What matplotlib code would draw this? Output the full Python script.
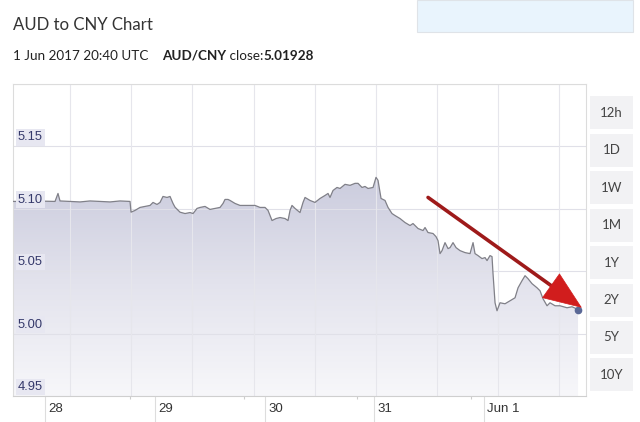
import numpy as np
import matplotlib
matplotlib.use("Agg")
import matplotlib.pyplot as plt
from matplotlib.patches import Rectangle, PathPatch
from matplotlib.colors import LinearSegmentedColormap

# ---- data: hours since 28 May 2017 00:00 UTC, AUD/CNY rate ----
hours = [-7.0, 0.0, 2.19, 2.84, 3.28, 5.47, 7.65, 9.84, 12.03, 14.21, 16.40, 18.59,
         18.81, 19.68, 20.77, 21.87, 22.96, 23.62, 24.49, 25.15, 25.80, 26.68, 27.34,
         27.99, 28.43, 29.52, 30.62, 31.71, 32.37, 33.24, 33.90, 34.99, 36.08, 37.18,
         38.27, 38.93, 39.36, 40.02, 40.46, 41.55, 42.64, 43.74, 44.83, 45.92, 47.02,
         48.11, 48.77, 49.64, 50.52, 51.39, 52.48, 53.14, 53.58, 54.01, 54.67, 55.76,
         56.42, 56.86, 57.95, 59.04, 60.14, 61.23, 61.89, 62.32, 62.98, 63.85, 64.51,
         65.60, 66.70, 67.79, 68.45, 69.32, 69.98, 70.63, 71.73, 72.38, 72.82, 73.48,
         74.35, 75.01, 75.88, 76.54, 77.63, 78.72, 79.82, 80.47, 81.57, 82.66, 83.10,
         83.75, 84.85, 85.50, 85.94, 86.38, 86.82, 87.47, 88.13, 88.57, 89.22, 89.88,
         90.75, 91.85, 92.94, 93.60, 94.03, 94.69, 95.56, 96.22, 96.66, 97.31, 97.75,
         97.97, 98.41, 98.84, 99.50, 100.59, 101.69, 102.78, 103.44, 104.31, 104.97,
         105.62, 106.50, 107.59, 108.25, 108.90, 109.78, 110.43, 111.53, 112.62,
         114.15, 115.24, 116.56]
rates = [5.1059, 5.1061, 5.1059, 5.1123, 5.1063, 5.1059, 5.1055, 5.1063, 5.1059,
         5.1055, 5.1063, 5.1059, 5.0973, 5.0987, 5.1011, 5.1019, 5.1027, 5.1051,
         5.1035, 5.1051, 5.1099, 5.1091, 5.1099, 5.1043, 5.1013, 5.0973, 5.0962,
         5.0970, 5.0962, 5.1003, 5.1011, 5.1019, 5.0995, 5.1003, 5.1011, 5.1043,
         5.1075, 5.1075, 5.1067, 5.1043, 5.1027, 5.1027, 5.1027, 5.1027, 5.1011,
         5.1011, 5.0987, 5.0906, 5.0922, 5.0930, 5.0922, 5.0906, 5.0987, 5.1027,
         5.1003, 5.0970, 5.1051, 5.1091, 5.1067, 5.1051, 5.1083, 5.1107, 5.1123,
         5.1091, 5.1147, 5.1171, 5.1163, 5.1196, 5.1188, 5.1204, 5.1204, 5.1171,
         5.1179, 5.1163, 5.1171, 5.1252, 5.1228, 5.1083, 5.1067, 5.1011, 5.0962,
         5.0946, 5.0922, 5.0890, 5.0866, 5.0882, 5.0842, 5.0826, 5.0850, 5.0810,
         5.0802, 5.0777, 5.0745, 5.0641, 5.0665, 5.0729, 5.0681, 5.0689, 5.0729,
         5.0689, 5.0665, 5.0649, 5.0641, 5.0729, 5.0641, 5.0625, 5.0601, 5.0609,
         5.0585, 5.0625, 5.0617, 5.0480, 5.0247, 5.0183, 5.0247, 5.0239, 5.0263,
         5.0287, 5.0367, 5.0424, 5.0464, 5.0440, 5.0400, 5.0367, 5.0343, 5.0279,
         5.0223, 5.0247, 5.0223, 5.0223, 5.0207, 5.0215, 5.0193]
day_hours = [0, 24, 48, 72, 96]
day_labels = ["28", "29", "30", "31", "Jun 1"]
y_levels = [4.95, 5.00, 5.05, 5.10, 5.15]
buttons = ["12h", "1D", "1W", "1M", "1Y", "2Y", "5Y", "10Y"]
title = "AUD to CNY Chart"
stamp = "1 Jun 2017 20:40 UTC"
pair = "AUD/CNY"
close_value = "5.01928"

W, H = 640, 422
fig = plt.figure(figsize=(W / 100, H / 100), dpi=100)
fig.patch.set_facecolor("white")


def fx(px):
    return px / W


def fy(py):
    return 1 - py / H


ax = fig.add_axes([fx(13), fy(396), fx(586) - fx(13), fy(84) - fy(396)])
XL = (-7.0, 118.3)
YL = (4.95, 5.20)

# gradient fill under the line
cmap = LinearSegmentedColormap.from_list("g", ["#f7f7fa", "#e3e3ed", "#cacbdd"])
grad = np.linspace(0, 1, 256).reshape(-1, 1)
im = ax.imshow(grad, aspect="auto", cmap=cmap, origin="lower",
               extent=[XL[0], XL[1], YL[0], 5.13], zorder=1, interpolation="bilinear")
fb = ax.fill_between(hours, rates, YL[0], color="none", lw=0)
pp = PathPatch(fb.get_paths()[0], transform=ax.transData, fc="none", ec="none")
ax.add_patch(pp)
im.set_clip_path(pp)

# grid
for v in y_levels[1:] + [5.20]:
    ax.axhline(v, color="#e0e0e8", lw=0.8, zorder=2)
for gx in np.arange(72.3 - 5 * 13.35, XL[1], 13.35):
    ax.axvline(gx, color="#e6e6ec", lw=0.8, zorder=2)

ax.plot(hours, rates, color="#808088", lw=0.9, zorder=4)
ax.plot(hours[-1], rates[-1], "o", color="#5a6896", ms=4.5, zorder=6)

ax.set_xlim(*XL)
ax.set_ylim(*YL)
for s in ax.spines.values():
    s.set_color("#dcdcdc")
    s.set_linewidth(0.8)
ax.spines["bottom"].set_color("#cfcfcf")

ax.set_yticks([])
ax.set_xticks(day_hours)
ax.set_xticklabels([""] * len(day_hours))
ax.tick_params(axis="x", length=19, width=0.8, color="#dddddd", direction="out")
ax.set_xticks([18.6, 43.5, 68.2, 93.2], minor=True)
ax.tick_params(axis="x", which="minor", length=2, width=0.8, color="#cccccc")

for h, lab in zip(day_hours, day_labels):
    ax.annotate(lab, xy=(h, 0), xycoords=("data", "axes fraction"),
                xytext=(2.5, -9.5), textcoords="offset points",
                ha="left", va="center", fontsize=9.5, color="#333333",
                family="Liberation Sans")

for v in y_levels:
    ax.annotate(f"{v:.2f}", xy=(0, v), xycoords=("axes fraction", "data"),
                xytext=(3.5, 2.2), textcoords="offset points",
                ha="left", va="bottom", fontsize=9.3, color="#34386a",
                family="Liberation Sans", zorder=7,
                bbox=dict(boxstyle="square,pad=0.18", fc="#e7e7f1", ec="none"))

# red arrow annotation
ax.annotate("", xy=(111.2, 5.0371), xytext=(83.76, 5.1091),
            arrowprops=dict(arrowstyle="-", color="#9e1a1a", lw=2.6,
                            shrinkA=0, shrinkB=0), zorder=8)
ax.annotate("", xy=(117.4, 5.0207), xytext=(110.0, 5.0400),
            arrowprops=dict(arrowstyle="-|>,head_length=1.9,head_width=0.75",
                            color="#d11d1d", lw=0.5, shrinkA=0, shrinkB=0,
                            mutation_scale=14), zorder=9)

# header
fig.text(fx(13), fy(25), title, fontsize=12.1, color="#333333",
         family="Lato", va="center", ha="left")
renderer = fig.canvas.get_renderer()
xpos = 13
parts = [(stamp + "    ", "normal"), (pair, "bold"), (" close:", "normal"),
         (close_value, "bold")]
for txt, wgt in parts:
    t = fig.text(fx(xpos), fy(56), txt, fontsize=9.7, color="#222222",
                 family="Lato", weight=wgt, va="center", ha="left")
    bb = t.get_window_extent(renderer=renderer)
    xpos += bb.width

# top-right blue panel
fig.add_artist(Rectangle((fx(417), fy(32)), fx(633) - fx(417), fy(0) - fy(32),
                         transform=fig.transFigure, fc="#e9f4fd", ec="#dfe3e8", lw=0.8))

# range buttons
for i, lab in enumerate(buttons):
    cy = 113 + 37.4 * i
    fig.add_artist(Rectangle((fx(590), fy(cy + 16.5)), fx(633) - fx(590), 33 / H,
                             transform=fig.transFigure, fc="#f2f2f4", ec="none"))
    fig.text(fx(611.5), fy(cy), lab, fontsize=9.5, color="#444444",
             family="Lato", ha="center", va="center")

fig.savefig("out.png", dpi=100, facecolor="white")
